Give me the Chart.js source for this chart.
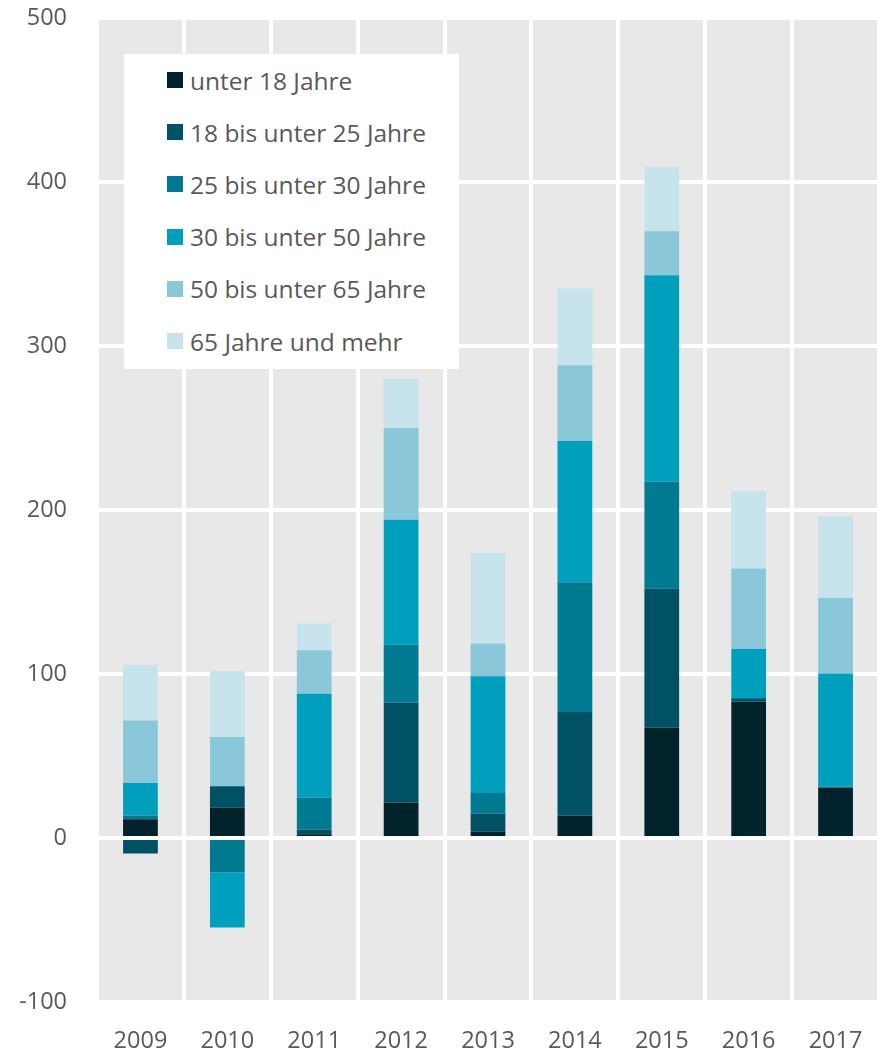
<!DOCTYPE html>
<html lang="de">
<head>
<meta charset="utf-8">
<script src="https://cdn.jsdelivr.net/npm/chart.js@4/dist/chart.umd.min.js"></script>
<style>
    html, body { margin: 0; padding: 0; background: #fff; }
    #wrap { position: relative; width: 879px; height: 1050px; }
    #legend {
        position: absolute; left: 124px; top: 54px; width: 335px; height: 315px;
        background: #fff; box-sizing: border-box; padding-top: 0;
        font-family: "Open Sans", sans-serif; font-size: 24.5px; color: #595959;
    }
    #legend .item { display: flex; align-items: center; height: 52.2px; padding-left: 43px; }
    #legend .box { width: 16px; height: 16px; margin-right: 7px; flex: none; }
</style>
</head>
<body>
<div id="wrap">
    <canvas id="chart" width="879" height="1050"></canvas>
    <div id="legend"></div>
</div>
<script>
const years = ['2009', '2010', '2011', '2012', '2013', '2014', '2015', '2016', '2017'];
const seriesNames = ['unter 18 Jahre', '18 bis unter 25 Jahre', '25 bis unter 30 Jahre',
    '30 bis unter 50 Jahre', '50 bis unter 65 Jahre', '65 Jahre und mehr'];
const unter18 = [11.5, 18.4, 2.3, 21.7, 3.8, 13.7, 67.4, 83.2, 30.8];
const von18bis25 = [-9.5, 13.1, 2.9, 60.9, 11, 63.1, 84.6, 1.5, -1.2];
const von25bis30 = [2.2, -21, 19.4, 35.2, 12.6, 79.1, 65.3, 0.6, 0.5];
const von30bis50 = [19.8, -33.5, 63.3, 76.2, 71.3, 86.1, 125.8, 30, 69];
const von50bis65 = [38.1, 30.1, 26.6, 56, 19.9, 46.2, 26.9, 49, 46];
const ab65 = [34, 40.1, 16.3, 29.9, 55.2, 47, 39.3, 47.1, 49.9];
const colors = ['#00222b', '#005163', '#007a91', '#009fbd', '#89c7d9', '#c7e4ed'];

const allSeries = [unter18, von18bis25, von25bis30, von30bis50, von50bis65, ab65];
const textColor = '#595959';
const tickFont = { family: 'Open Sans', size: 23.5 };

// grey plot background
const plotBg = {
    id: 'plotBg',
    beforeDraw(chart) {
        const { ctx, chartArea: a } = chart;
        ctx.save();
        ctx.fillStyle = '#e8e8e8';
        ctx.fillRect(a.left, a.top, a.right - a.left, a.bottom - a.top);
        ctx.restore();
    }
};

const chart = new Chart(document.getElementById('chart'), {
    type: 'bar',
    data: {
        labels: years,
        datasets: allSeries.map((values, i) => ({
            label: seriesNames[i],
            data: values,
            backgroundColor: colors[i],
            borderWidth: 0,
            categoryPercentage: 1,
            barPercentage: 0.4
        }))
    },
    options: {
        responsive: false,
        animation: false,
        layout: { padding: { top: 18, right: 0, left: 0, bottom: 0 } },
        plugins: { legend: { display: false }, tooltip: { enabled: false } },
        scales: {
            x: {
                stacked: true,
                offset: true,
                grid: { offset: true, color: '#ffffff', lineWidth: 4, drawTicks: false },
                border: { display: false },
                ticks: { color: textColor, font: tickFont, padding: 25 },
                afterFit: (scale) => {
                    scale.height = 48;
                    scale.paddingLeft = 0;
                    scale.paddingRight = 0;
                }
            },
            y: {
                stacked: true,
                min: -100,
                max: 500,
                grid: { color: '#ffffff', lineWidth: 4, drawTicks: false },
                border: { display: false },
                ticks: { stepSize: 100, color: textColor, font: tickFont, padding: 30 },
                afterFit: (scale) => {
                    scale.width = 97;
                    scale.paddingTop = 0;
                    scale.paddingBottom = 0;
                }
            }
        }
    },
    plugins: [plotBg]
});

// legend from datasets
const legend = document.getElementById('legend');
legend.innerHTML = chart.data.datasets.map(ds => `
    <div class="item"><span class="box" style="background:${ds.backgroundColor}"></span>${ds.label}</div>
`).join('');
</script>
</body>
</html>
